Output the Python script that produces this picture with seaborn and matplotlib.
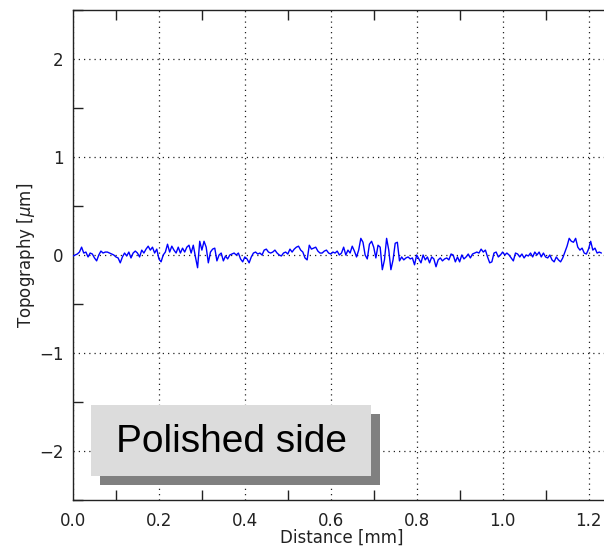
import matplotlib
matplotlib.use("Agg")
import matplotlib.pyplot as plt
from matplotlib.ticker import MultipleLocator, FormatStrFormatter
from matplotlib.patches import Rectangle
import seaborn as sns
import pandas as pd

# Surface profile of the polished side: sampling step along the scan [mm]
step_mm = 0.005

# Measured topography [um], one value per sample
height_um = [
    -0.01, 0.00, 0.01, 0.03, 0.08, 0.02, 0.03, -0.02, 0.02, 0.01,
    -0.03, -0.06, 0.00, 0.04, 0.02, 0.03, 0.03, 0.02, 0.01, 0.00,
    -0.02, -0.03, -0.08, -0.02, 0.02, -0.01, 0.03, -0.03, 0.02, 0.04,
    0.02, -0.02, 0.05, 0.02, 0.06, 0.09, 0.05, 0.08, 0.02, 0.06,
    -0.04, -0.07, 0.00, 0.03, 0.11, 0.03, 0.09, 0.05, 0.02, 0.08,
    0.02, 0.07, 0.03, 0.08, 0.10, 0.02, 0.10, -0.02, -0.13, 0.14,
    0.05, 0.14, 0.08, -0.08, 0.03, 0.06, 0.07, -0.06, 0.00, 0.02,
    -0.06, -0.01, -0.04, 0.00, 0.01, 0.02, 0.00, 0.02, -0.04, -0.07,
    -0.02, -0.04, -0.08, -0.02, 0.02, 0.03, 0.01, 0.02, 0.00, 0.05,
    0.06, 0.03, 0.02, 0.03, 0.05, 0.02, 0.00, -0.01, 0.02, 0.03,
    0.01, 0.06, 0.03, 0.06, 0.08, 0.09, 0.05, 0.03, -0.03, -0.05,
    0.10, 0.06, 0.07, 0.08, 0.04, 0.02, 0.02, 0.04, 0.05, 0.02,
    0.01, 0.03, 0.02, 0.04, 0.00, 0.02, 0.08, 0.00, 0.05, 0.02,
    0.09, 0.04, -0.02, 0.05, 0.17, 0.13, 0.00, -0.04, 0.11, 0.14,
    0.08, -0.03, 0.10, 0.08, -0.15, -0.05, 0.17, 0.05, -0.15, -0.05,
    0.12, 0.13, -0.06, -0.02, -0.05, -0.03, -0.02, -0.04, -0.03, -0.10,
    0.00, -0.04, -0.08, 0.00, -0.05, -0.02, -0.08, -0.02, -0.04, -0.12,
    -0.05, -0.03, -0.06, -0.04, -0.03, -0.05, 0.01, 0.00, -0.07, -0.02,
    -0.07, 0.00, -0.04, -0.02, 0.01, -0.03, 0.01, 0.02, 0.03, 0.02,
    0.06, 0.03, 0.05, -0.02, -0.08, -0.07, 0.02, 0.03, -0.02, 0.00,
    0.03, 0.00, 0.02, 0.00, -0.03, -0.06, 0.02, 0.01, -0.02, 0.01,
    -0.03, 0.00, -0.01, 0.02, -0.02, 0.03, 0.00, 0.03, -0.02, 0.02,
    -0.02, -0.03, 0.00, -0.05, -0.07, -0.02, -0.05, -0.07, -0.03, 0.03,
    0.09, 0.17, 0.14, 0.13, 0.17, 0.08, 0.05, 0.07, 0.02, 0.01,
    0.06, 0.14, 0.05, 0.07, 0.02, 0.03, 0.02,
]
distance_mm = [i * step_mm for i in range(len(height_um))]

x_ticks = [0.0, 0.2, 0.4, 0.6, 0.8, 1.0, 1.2]
y_ticks = [-2, -1, 0, 1, 2]
label_text = "Polished side"

profile = pd.DataFrame({"Distance": distance_mm, "Topography": height_um})

sns.set_style("white")
plt.rcParams["font.family"] = ["DejaVu Sans"]

W, H = 604, 549
fig = plt.figure(figsize=(W / 100, H / 100), dpi=100)
# the plot area runs slightly past the right edge of the canvas
ax = fig.add_axes([73 / W, 49 / H, 537 / W, 490 / H])

sns.lineplot(data=profile, x="Distance", y="Topography", ax=ax,
             color="#0000ff", linewidth=1.0, estimator=None, sort=False,
             zorder=3)

ax.set_xlim(0, 1.25)
ax.set_ylim(-2.5, 2.5)
ax.set_xticks(x_ticks)
ax.set_yticks(y_ticks)
ax.xaxis.set_major_formatter(FormatStrFormatter("%.1f"))
ax.xaxis.set_minor_locator(MultipleLocator(0.1))
ax.yaxis.set_minor_locator(MultipleLocator(0.5))

ax.tick_params(which="major", length=0, labelsize=12, labelcolor="#222222")
ax.tick_params(axis="x", which="major", pad=9)
ax.tick_params(axis="y", which="major", pad=7)
ax.tick_params(which="minor", direction="in", length=7, width=1,
               color="#222222", top=True, bottom=True, left=True, right=False)

ax.grid(True, which="major", color="#222222", linestyle=(0, (1, 3.2)),
        linewidth=0.9, zorder=1)
ax.set_axisbelow(True)

for side in ["left", "bottom", "top"]:
    ax.spines[side].set_color("#222222")
    ax.spines[side].set_linewidth(1.0)
ax.spines["right"].set_visible(False)

ax.set_xlabel("Distance [mm]", fontsize=12, color="#222222", labelpad=-1)
ax.set_ylabel("Topography [$\\mu$m]", fontsize=12, color="#222222", labelpad=1)

# Label box with drop shadow, placed in figure pixel coordinates
def px_rect(x0, y0, x1, y1, color, z):
    return Rectangle((x0 / W, 1 - y1 / H), (x1 - x0) / W, (y1 - y0) / H,
                     transform=fig.transFigure, facecolor=color,
                     edgecolor="none", zorder=z)

fig.patches.append(px_rect(100, 414, 380, 485, "#808080", 5))
fig.patches.append(px_rect(91, 405, 371, 476, "#dcdcdc", 6))
fig.text(231 / W, 1 - 442 / H, label_text, ha="center", va="center",
         fontsize=28, family=["Liberation Sans", "DejaVu Sans"],
         color="black", zorder=7)

fig.savefig("out.png", dpi=100)
